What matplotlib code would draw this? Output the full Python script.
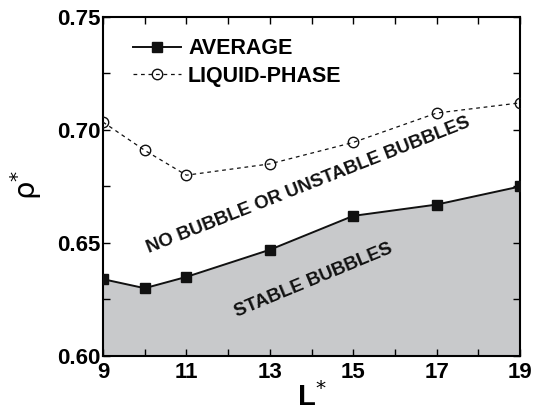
import matplotlib
matplotlib.use("Agg")
import matplotlib.pyplot as plt
from matplotlib.ticker import MultipleLocator

L = [9, 10, 11, 13, 15, 17, 19]
average = [0.634, 0.630, 0.635, 0.647, 0.662, 0.667, 0.675]
liquid = [0.7035, 0.691, 0.680, 0.685, 0.6945, 0.7075, 0.712]
xticks = [9, 11, 13, 15, 17, 19]
yticks = [0.60, 0.65, 0.70, 0.75]

plt.rcParams['font.family'] = ['Liberation Sans', 'DejaVu Sans']

fig = plt.figure(figsize=(5.35, 4.16), dpi=100)
ax = fig.add_axes([103/535, 1-356/416, 417/535, 339/416])

ax.fill_between(L, 0.60, average, color='#c8c9cb', zorder=1)
ax.plot(L, average, '-', color='#111111', lw=1.4, marker='s', ms=7,
        label='AVERAGE', zorder=3)
ax.plot(L, liquid, '--', color='#111111', lw=0.9, dashes=(3, 3), marker='o', ms=7.5,
        mfc='none', mec='#111111', mew=1.0, label='LIQUID-PHASE', zorder=3)

ax.set_xlim(9, 19)
ax.set_ylim(0.60, 0.75)
ax.set_xticks(xticks)
ax.set_yticks(yticks)
ax.set_yticklabels([f"{v:.2f}" for v in yticks])
ax.xaxis.set_minor_locator(MultipleLocator(1))
ax.yaxis.set_minor_locator(MultipleLocator(0.025))
ax.tick_params(which='both', direction='in', top=True, right=True,
               labelsize=16, width=1.0)
ax.tick_params(axis='x', pad=4)
ax.tick_params(axis='y', pad=2)
ax.tick_params(which='major', length=5)
ax.tick_params(which='minor', length=5)
for lab in ax.get_xticklabels() + ax.get_yticklabels():
    lab.set_fontweight('bold')
for s in ax.spines.values():
    s.set_linewidth(1.5)

ax.set_xlabel('L$^{*}$', fontsize=21, fontweight='bold', labelpad=0)
fig.text(26/535, 1-185/416, 'ρ$^{*}$', rotation=90, ha='center', va='center',
         fontsize=21, family='DejaVu Sans')

leg = ax.legend(loc='upper left', bbox_to_anchor=(0.026, 0.995), frameon=False,
                prop={'weight': 'bold', 'size': 15.5}, handlelength=2.2,
                handletextpad=0.35, labelspacing=0.3)

ax.text(13.92, 0.6757, 'NO BUBBLE OR UNSTABLE BUBBLES', rotation=21.5,
        ha='center', va='center', fontsize=13.5, fontweight='bold',
        color='#111111', rotation_mode='anchor')
ax.text(14.04, 0.6336, 'STABLE BUBBLES', rotation=22.5,
        ha='center', va='center', fontsize=13.5, fontweight='bold',
        color='#111111', rotation_mode='anchor')

fig.savefig('out.png', dpi=100)
